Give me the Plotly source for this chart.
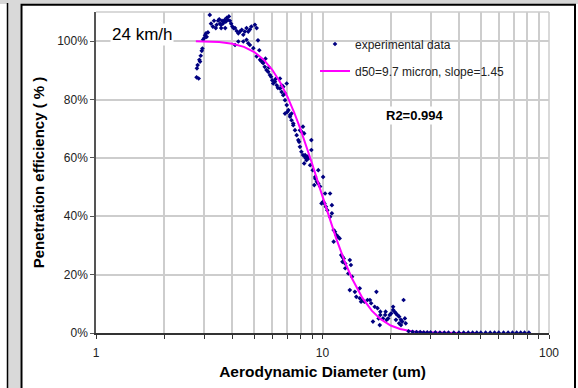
import plotly.graph_objects as go

# ---------------- data ----------------
exp_d = [2.78, 2.79, 2.81, 2.84, 2.86, 2.88, 2.90, 2.93, 2.95, 2.97, 3.00, 3.03, 3.06, 3.08, 3.12,
         3.18, 3.22, 3.28, 3.32, 3.38, 3.41, 3.46, 3.50, 3.53, 3.56, 3.60, 3.63, 3.67, 3.70, 3.74,
         3.78, 3.82, 3.86, 3.90, 3.95, 3.57, 3.72, 4.00, 4.05, 4.11, 4.18, 4.25, 4.32, 4.40, 4.47,
         4.54, 4.62, 4.70, 4.78, 4.85, 5.03, 5.12, 4.11, 4.25, 4.47, 4.62, 4.70, 4.78, 4.95, 5.12,
         5.19, 5.30, 5.39, 5.47, 5.26,
         5.50, 5.56, 5.60, 5.66, 5.76, 5.80, 5.86, 5.93, 6.00, 6.06, 6.17, 6.20, 6.28, 6.35, 6.49,
         6.49, 6.60, 6.60, 6.71, 6.71, 6.83, 6.83, 6.95, 6.95, 7.07, 6.83, 7.00, 7.19, 7.19, 7.30,
         7.43, 7.43, 7.30, 7.56, 7.69, 7.82, 7.95, 7.95, 8.10, 8.20, 8.30, 8.38, 8.50, 8.60, 8.70,
         7.88, 8.07, 8.82, 8.93, 8.93, 9.05, 9.28,
         8.20, 8.35, 8.45, 8.55, 8.30, 9.58, 9.30, 9.45, 9.58, 10.06, 9.76, 9.20,
         10.80, 9.90, 10.06, 10.20, 10.35, 10.50, 11.00, 11.00, 10.80, 11.20, 11.35, 11.50, 11.70,
         11.90, 11.20, 10.27,
         12.10, 12.25, 12.40, 12.25, 12.60, 13.20, 13.35, 12.60, 13.00, 13.50, 13.20, 13.90, 14.60,
         14.10, 14.60, 14.80, 15.00, 15.30, 15.80, 16.20, 16.40, 17.30, 17.00, 17.50, 18.00, 17.70,
         16.70, 17.90, 18.50, 18.90, 19.20, 19.50, 19.80, 20.10, 20.50, 20.80, 21.10, 21.40, 21.80,
         22.20, 22.50, 23.10, 23.30, 22.80, 21.80, 21.10, 22.20, 18.00, 19.00, 20.50]
exp_p = [0.876, 0.907, 0.918, 0.872, 0.936, 0.930, 0.950, 0.967, 0.975, 1.005, 1.010, 1.020, 1.027, 1.015, 1.030,
         1.090, 1.060, 1.050, 1.070, 1.045, 1.056, 1.070, 1.075, 1.060, 1.056, 1.070, 1.060, 1.067, 1.073, 1.067,
         1.080, 1.073, 1.085, 1.070, 1.060, 1.045, 1.045, 1.050, 1.045, 1.045, 1.035, 1.027, 1.033, 1.039, 1.022,
         1.033, 1.045, 1.033, 1.040, 1.050, 1.056, 1.045, 0.987, 0.999, 0.999, 1.005, 0.993, 0.987, 0.976, 0.948,
         1.003, 0.936, 0.930, 0.925, 0.969,
         0.930, 0.912, 0.940, 0.901, 0.895, 0.910, 0.884, 0.878, 0.866, 0.855, 0.861, 0.870, 0.849, 0.840, 0.838,
         0.872, 0.826, 0.849, 0.815, 0.844, 0.798, 0.821, 0.855, 0.781, 0.764, 0.752, 0.758, 0.747, 0.741, 0.729,
         0.718, 0.712, 0.752, 0.695, 0.678, 0.661, 0.638, 0.695, 0.689, 0.707, 0.684, 0.610, 0.592, 0.604, 0.599,
         0.655, 0.621, 0.575, 0.661, 0.627, 0.558, 0.535,
         0.610, 0.604, 0.598, 0.604, 0.581, 0.558, 0.529, 0.518, 0.512, 0.535, 0.502, 0.507,
         0.478, 0.444, 0.450, 0.444, 0.433, 0.421, 0.438, 0.410, 0.398, 0.353, 0.347, 0.336, 0.330,
         0.324, 0.313, 0.478,
         0.267, 0.261, 0.255, 0.244, 0.238, 0.250, 0.233, 0.222, 0.204, 0.193, 0.147, 0.141, 0.153,
         0.124, 0.119, 0.107, 0.113, 0.107, 0.113, 0.113, 0.102, 0.141, 0.090, 0.085, 0.062, 0.050,
         0.039, 0.027, 0.050, 0.062, 0.045, 0.050, 0.062, 0.067, 0.079, 0.073, 0.067, 0.062, 0.056,
         0.045, 0.039, 0.050, 0.033, 0.113, 0.033, 0.045, 0.027, 0.073, 0.073, 0.090]

tail_d = [24.0, 25.0, 26.0, 27.0, 28.0, 29.0, 30.0, 31.5, 33.0, 34.5, 36.0, 38.0, 40.0, 42.0, 44.0,
          46.0, 48.0, 50.0, 52.5, 55.0, 57.5, 60.0, 63.0, 66.0, 69.0, 72.0, 75.0, 78.0, 81.5]
tail_p = [0.006, 0.004, 0.003, 0.003, 0.002, 0.002, 0.002, 0.002, 0.001, 0.001, 0.001, 0.001, 0.001, 0.001, 0.001,
          0.001, 0.001, 0.001, 0.001, 0.001, 0.001, 0.001, 0.001, 0.001, 0.001, 0.001, 0.001, 0.001, 0.001]

fit_d = [2.76, 3.0, 3.5, 4.0, 4.5, 5.0, 5.5, 6.0, 6.5, 7.0, 7.5, 8.0, 8.5, 9.0, 9.7, 10.5, 11.5,
         12.5, 13.5, 15.0, 16.5, 18.0, 20.0, 22.0, 25.0, 28.0, 32.0, 40.0, 48.0]
fit_p = [0.9996, 0.9992, 0.997, 0.9914, 0.9806, 0.9628, 0.9366, 0.9019, 0.8593, 0.81, 0.7556, 0.698,
         0.6389, 0.5799, 0.5, 0.4155, 0.3234, 0.2475, 0.1868, 0.1204, 0.0764, 0.0481, 0.0257, 0.0138,
         0.0054, 0.0022, 0.0007, 0.0001, 0.0]

y_ticks = [0, 0.2, 0.4, 0.6, 0.8, 1.0]
y_labels = ["0%", "20%", "40%", "60%", "80%", "100%"]
x_ticks = [1, 10, 100]
x_labels = ["1", "10", "100"]
x_minor = [2, 3, 4, 5, 6, 7, 8, 9, 20, 30, 40, 50, 60, 70, 80, 90]

# ---------------- geometry helpers (pixels -> paper) ----------------
W, H = 578, 388
L, R, T, B = 96, 549, 12, 333
def px(x):
    return (x - L) / (R - L)
def py(y):
    return (B - y) / (B - T)

NAVY = "#000080"
PINK = "#FF00FF"
GRID = "#cdcdcd"
FONT = "Arial, Liberation Sans, sans-serif"

fig = go.Figure()
fig.add_trace(go.Scatter(
    x=exp_d, y=exp_p, mode="markers", name="experimental data",
    marker=dict(symbol="diamond", size=3.6, color=NAVY),
    legend="legend", legendgroup="exp"))
fig.add_trace(go.Scatter(
    x=fit_d, y=fit_p, mode="lines", name="d50=9.7 micron, slope=1.45",
    line=dict(color=PINK, width=2), legend="legend2"))
fig.add_trace(go.Scatter(
    x=tail_d, y=tail_p, mode="markers", name="experimental data", showlegend=False,
    marker=dict(symbol="diamond", size=3.6, color=NAVY), legendgroup="exp"))

shapes = [
    # outer decorations
    dict(type="rect", xref="paper", yref="paper", x0=px(0), x1=px(W), y0=py(0), y1=py(4),
         fillcolor="#d6d6d6", line=dict(width=0), layer="below"),
    dict(type="rect", xref="paper", yref="paper", x0=px(8), x1=px(20.5), y0=py(0), y1=py(H),
         fillcolor="#d9d9d9", line=dict(width=0), layer="below"),
    dict(type="line", xref="paper", yref="paper", x0=px(7.5), x1=px(7.5), y0=py(3), y1=py(H + 2),
         line=dict(color="black", width=1.5)),
    dict(type="rect", xref="paper", yref="paper", x0=px(21.5), x1=px(575), y0=py(4.8), y1=py(H + 5),
         line=dict(color="black", width=2)),
    # plot-area top / right light border
    dict(type="line", xref="x domain", yref="y domain", x0=0, x1=1, y0=1, y1=1,
         line=dict(color=GRID, width=1.5), layer="below"),
    dict(type="line", xref="x domain", yref="y domain", x0=1, x1=1, y0=0, y1=1,
         line=dict(color=GRID, width=1.5), layer="below"),
    # legend white background
    dict(type="rect", xref="x domain", yref="y domain", x0=px(297), x1=px(532),
         y0=py(87), y1=py(30), fillcolor="white", line=dict(width=0), layer="below"),
]

annotations = [
    dict(text="24 km/h", xref="paper", yref="paper", x=px(142), y=py(34),
         xanchor="center", yanchor="middle",
         showarrow=False, font=dict(family=FONT, size=17, color="black"),
         bgcolor="white", borderpad=1),
    dict(text="<b>R2=0.994</b>", xref="paper", yref="paper", x=px(415), y=py(115),
         xanchor="center", yanchor="middle",
         showarrow=False, font=dict(family=FONT, size=13, color="black"),
         bgcolor="white", borderpad=1),
]

fig.update_layout(
    width=W, height=H,
    margin=dict(l=L, r=W - R, t=T, b=H - B, pad=0, autoexpand=False),
    paper_bgcolor="white", plot_bgcolor="white",
    font=dict(family=FONT, size=12, color="#222222"),
    showlegend=True,
    legend=dict(x=px(315), y=py(44), xanchor="left", yanchor="middle",
                bgcolor="rgba(0,0,0,0)", borderwidth=0,
                font=dict(family=FONT, size=12, color="#222222")),
    legend2=dict(x=px(315), y=py(71), xanchor="left", yanchor="middle",
                 bgcolor="rgba(0,0,0,0)", borderwidth=0,
                 font=dict(family=FONT, size=12, color="#222222")),
    shapes=shapes,
    annotations=annotations,
    xaxis=dict(
        type="log", range=[0, 2], tickmode="array", tickvals=x_ticks, ticktext=x_labels,
        automargin=False,
        showgrid=True, gridcolor=GRID, gridwidth=1.5,
        showline=True, linecolor="#333333", linewidth=1.5,
        ticks="outside", ticklen=4, tickcolor="#333333", tickwidth=1,
        ticklabelstandoff=4,
        zeroline=False,
        minor=dict(tickmode="array", tickvals=x_minor, showgrid=True, gridcolor=GRID, gridwidth=1.5,
                   ticks="outside", ticklen=4, tickcolor="#333333", tickwidth=1),
        tickfont=dict(family=FONT, size=12, color="#222222"),
        title=dict(text="<b>Aerodynamic Diameter (um)</b>", standoff=7,
                   font=dict(family=FONT, size=15.5, color="black")),
    ),
    yaxis=dict(
        range=[0, 1.1], tickmode="array", tickvals=y_ticks, ticktext=y_labels,
        automargin=False,
        showgrid=True, gridcolor=GRID, gridwidth=1.5,
        showline=True, linecolor="#555555", linewidth=1.5,
        ticks="outside", ticklen=4, tickcolor="#555555", tickwidth=1,
        zeroline=False,
        tickfont=dict(family=FONT, size=12, color="#222222"),
        title=dict(text="<b>Penetration efficiency ( % )</b>", standoff=9,
                   font=dict(family=FONT, size=15, color="black")),
    ),
)

fig.write_html("out.html")
